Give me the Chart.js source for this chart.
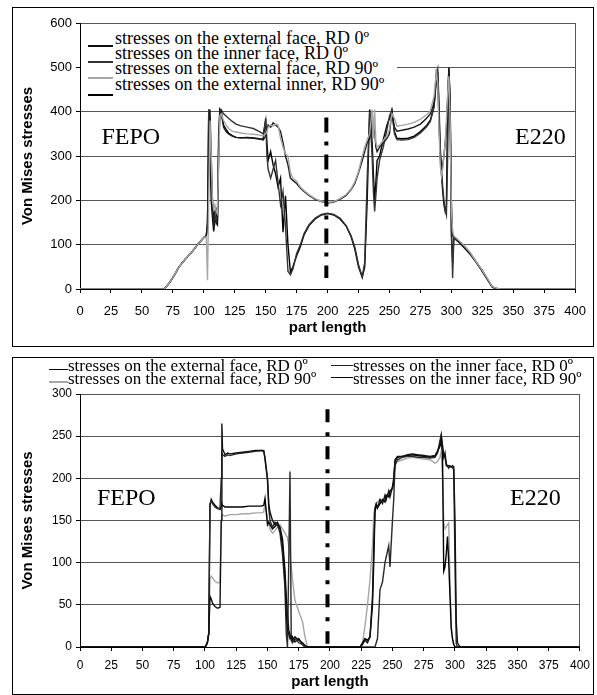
<!DOCTYPE html>
<html><head><meta charset="utf-8">
<script src="https://cdn.jsdelivr.net/npm/chart.js@4.4.1/dist/chart.umd.min.js"></script>
<style>
html,body{margin:0;padding:0;background:#fff;}
body{width:597px;height:695px;position:relative;overflow:hidden;}
.box{position:absolute;border:1px solid #000;box-sizing:border-box;}
canvas{position:absolute;left:0;}
.t{position:absolute;font-family:"Liberation Serif","Times New Roman",serif;color:#000;white-space:nowrap;}
.lg{font-size:18px;line-height:18px;}
.lg2{font-size:17px;line-height:17px;}
.big{font-size:24px;line-height:24px;}
.ln{position:absolute;}
</style></head><body>
<div class="box" style="left:12px;top:7px;width:582px;height:340px;"></div>
<div class="box" style="left:12px;top:357px;width:582px;height:338px;"></div>
<canvas id="c1" width="597" height="350" style="top:0;"></canvas>
<canvas id="c2" width="597" height="345" style="top:350px;"></canvas>

<!-- top legend -->
<div style="position:absolute;left:81px;top:24px;width:316px;height:78px;background:#fff;"></div>
<div class="ln" style="left:88px;top:45px;width:25px;height:2px;background:#111"></div>
<div class="ln" style="left:88px;top:61px;width:25px;height:1.5px;background:#333"></div>
<div class="ln" style="left:88px;top:77px;width:25px;height:1.5px;background:#a6a6a6"></div>
<div class="ln" style="left:88px;top:94px;width:25px;height:2px;background:#000"></div>
<div class="t lg" style="left:115px;top:29px">stresses on the external face, RD 0º</div>
<div class="t lg" style="left:115px;top:44px">stresses on the inner face, RD 0º</div>
<div class="t lg" style="left:115px;top:59px">stresses on the external face, RD 90º</div>
<div class="t lg" style="left:115px;top:74.5px">stresses on the external inner, RD 90º</div>
<div class="t big" style="left:101.5px;top:124.2px">FEPO</div>
<div class="t big" style="left:515px;top:123.5px">E220</div>

<!-- bottom legend -->
<div class="ln" style="left:49px;top:368.5px;width:19px;height:1.5px;background:#000"></div>
<div class="ln" style="left:49px;top:381px;width:19px;height:1.5px;background:#a6a6a6"></div>
<div class="ln" style="left:331px;top:364.5px;width:22px;height:1.5px;background:#222"></div>
<div class="ln" style="left:331px;top:376.5px;width:22px;height:1.5px;background:#000"></div>
<div class="t lg2" style="left:68px;top:357.3px">stresses on the external face, RD 0º</div>
<div class="t lg2" style="left:68px;top:370.3px">stresses on the external face, RD 90º</div>
<div class="t lg2" style="left:353px;top:357.3px">stresses on the inner face, RD 0º</div>
<div class="t lg2" style="left:353px;top:370.3px">stresses on the inner face, RD 90º</div>
<div class="t big" style="left:97px;top:485px">FEPO</div>
<div class="t big" style="left:510px;top:485px">E220</div>

<script>
// ---------- top chart data ----------
const xTop = [0,68,72,76,80,85,90,95,100,
  102,103,104,105,106,107,108,109,110,111,112,113,114,
  116,118,120,123,126,130,135,140,145,148,
  150,151,152,154,156,158,160,162,164,166,168,170,172,
  175,178,181,185,190,195,200,205,210,215,219,222,225,228,230,232,234,236,237,238,239,240,242,245,248,250,252,
  254,256,260,265,270,275,280,283,286,287,288,289,290,291,292,293,294,295,296,297,298,299,300,301,302,
  305,310,315,320,325,330,333,336,340,400];
const topExtRD0 = [0,0,13,30,50,67,82,100,116,
  120,150,300,405,300,200,160,175,180,150,300,405,400,
  365,355,350,345,342,341,341,340,338,336,
  345,360,370,365,375,370,365,355,330,300,280,250,245,
  238,228,220,211,202,197,194,196,202,211,224,238,262,290,310,330,340,400,350,360,320,310,320,330,340,350,400,
  365,356,358,361,365,372,385,395,420,450,496,470,380,300,270,280,300,330,360,430,500,420,200,120,118,
  110,98,82,61,40,18,5,1,0,0];
const topInnerRD0 = [0,0,13,30,50,67,82,100,116,
  120,140,405,380,250,180,150,170,150,160,350,405,405,
  395,390,385,378,372,368,365,362,355,350,
  380,300,270,250,270,290,240,190,220,140,40,32,45,
  80,100,125,145,160,168,171,168,160,143,120,95,55,28,60,250,400,300,220,175,210,250,290,320,360,390,405,
  350,337,336,337,342,352,366,378,410,440,480,495,420,320,280,230,200,180,167,300,495,400,150,25,115,
  108,97,81,60,40,18,4,0,0,0];
const topExtRD90 = [0,0,13,30,50,67,82,100,116,
  118,20,200,380,300,200,180,190,175,170,280,390,395,
  380,370,362,356,354,352,350,349,347,345,
  350,355,365,370,368,372,370,340,320,305,300,262,250,
  243,230,222,213,204,198,195,197,204,213,226,242,265,300,320,337,350,405,340,405,330,320,325,335,345,360,395,
  385,367,369,372,376,383,393,402,435,465,490,460,360,280,254,270,300,330,380,440,480,380,180,130,120,
  112,99,83,62,42,20,6,2,0,0];
const topInnerRD90 = [0,0,13,30,50,67,82,100,116,
  120,145,405,300,200,160,130,160,150,145,320,405,400,
  370,360,352,346,342,341,342,341,339,338,
  385,330,290,310,280,260,230,250,128,210,100,38,50,
  75,95,122,143,158,167,170,167,158,142,118,90,50,26,50,200,405,330,260,200,240,290,300,337,370,385,400,
  355,340,339,340,345,355,369,381,412,450,470,490,400,300,260,220,190,175,190,420,498,420,120,60,117,
  108,94,79,61,42,19,5,1,0,0];
const topDashX = [199,199];
const topDashY = [387,25];

// ---------- bottom chart data ----------
const xBot = [0,100,101,102,103,104,105,106,108,110,112,
  113,113.5,114,116,118,120,125,130,135,140,145,147,148,
  150,151,152,154,156,158,160,162,164,165,166,167,168,169,170,172,175,178,180,182,
  224,226,228,230,232,234,235,236,237,238,240,242,244,245,247,248,250,251,252,
  254,258,262,266,270,275,280,284,286,288,289,290,291,292,293,294,295,296,297,298,299,300,301,302,304,400];
const botExtRD0 = [0,0,2,6,16,60,57,52,48,46,47,
  150,265,235,228,230,229,230,231,232,233,233,232,225,
  200,170,160,150,145,148,140,120,80,40,20,15,10,12,8,12,8,5,2,0,
  0,3,8,5,12,60,120,165,170,165,175,170,180,175,185,178,190,200,222,
  226,226,228,229,228,227,226,227,232,240,250,235,225,230,218,214,215,214,213,215,214,150,30,5,0,0];
const botInnerRD0 = [0,0,2,6,16,170,173,170,166,164,165,
  200,230,228,226,228,227,229,230,231,232,233,233,222,
  198,165,150,142,148,145,135,110,70,16,0,100,208,10,5,10,5,3,0,0,
  0,0,0,0,0,0,0,0,5,10,68,77,100,107,120,95,151,175,215,
  222,225,226,226,225,225,224,225,230,245,252,240,228,225,215,215,212,215,214,213,210,100,4,0,0,0];
const botExtRD90 = [0,0,2,6,16,80,84,82,78,76,76,
  150,155,157,155,156,157,157,158,158,159,159,160,172,
  150,145,140,135,138,142,145,140,135,132,130,120,110,95,80,55,42,30,12,0,
  0,5,25,50,80,120,157,165,170,172,175,172,176,178,180,185,190,200,218,
  220,222,224,225,224,223,222,218,220,225,232,200,147,140,142,145,147,80,24,10,3,0,0,0,0,0];
const botInnerRD90 = [0,0,2,6,16,168,175,172,168,165,163,
  167,170,168,166,166,166,166,166,167,167,167,168,176,
  145,148,145,140,143,146,142,128,90,60,40,20,15,8,12,6,10,3,0,0,
  0,5,10,8,12,50,100,160,168,165,170,175,172,180,178,185,188,195,220,
  225,226,227,228,227,226,225,226,232,238,245,230,90,95,110,131,100,60,22,10,3,0,0,0,0,0];
const botDashX = [198,198];
const botDashY = [282,4];

// ---------- axes ----------
const xMin = 0, xMax = 400, xStep = 25;
const topYMax = 600, topYStep = 100;
const botYMax = 300, botYStep = 50;
const xTitle = 'part length';
const yTitle = 'Von Mises stresses';

Chart.defaults.font.family = '"Liberation Sans", Arial, sans-serif';
Chart.defaults.color = '#000';

function pts(xs, ys) { return xs.map((x, i) => ({x: x, y: ys[i]})); }
function lineDs(label, xs, ys, color, w) {
  return {label: label, data: pts(xs, ys), borderColor: color, backgroundColor: color,
    borderWidth: w, pointRadius: 0, fill: false, tension: 0};
}
function dashDs(xs, ys, dash) {
  return {label: 'axis', data: pts(xs, ys), borderColor: '#000', borderWidth: 4,
    borderDash: dash, borderCapStyle: 'butt', pointRadius: 0, fill: false, tension: 0};
}

function makeChart(id, datasets, o) {
  return new Chart(document.getElementById(id), {
    type: 'line',
    data: {datasets: datasets},
    options: {
      responsive: false, animation: false, devicePixelRatio: 1,
      layout: {padding: {left: 0, top: o.padTop, right: o.padRight, bottom: 0}},
      plugins: {legend: {display: false}, tooltip: {enabled: false}},
      scales: {
        x: {
          type: 'linear', min: xMin, max: xMax,
          ticks: {stepSize: xStep, autoSkip: false, maxRotation: 0, color: '#000',
            font: {size: o.tickFont}, padding: o.xTickPad},
          grid: {drawOnChartArea: true, tickLength: 4, tickColor: '#000', lineWidth: 1,
            color: c => (c.tick && c.tick.value === xMax) ? '#555' : 'rgba(0,0,0,0)'},
          border: {display: true, color: '#000', width: 1},
          title: {display: true, text: xTitle, color: '#000',
            font: {size: 15, weight: 'bold'}, padding: {top: 0, bottom: o.xTitlePad}},
          afterFit: s => { s.height = o.xHeight; }
        },
        y: {
          min: 0, max: o.yMax,
          ticks: {stepSize: o.yStep, color: '#000', font: {size: o.tickFont}, padding: 4},
          grid: {color: '#555', tickColor: '#000', tickLength: 4, lineWidth: 1},
          border: {display: true, color: '#000', width: 1},
          title: {display: true, text: yTitle, color: '#000',
            font: {size: 15, weight: 'bold'}, padding: {top: 19, bottom: 0}},
          afterFit: s => { s.width = 80; }
        }
      }
    }
  });
}

makeChart('c1', [
  dashDs(topDashX, topDashY, [15, 9, 4, 9]),
  lineDs('stresses on the external face, RD 90º', xTop, topExtRD90, '#a6a6a6', 1.4),
  lineDs('stresses on the external face, RD 0º', xTop, topExtRD0, '#1a1a1a', 1.4),
  lineDs('stresses on the inner face, RD 0º', xTop, topInnerRD0, '#333', 1.4),
  lineDs('stresses on the external inner, RD 90º', xTop, topInnerRD90, '#000', 1.4)
], {padTop: 23, padRight: 17, xHeight: 61, tickFont: 13, xTickPad: 11, xTitlePad: 13,
    yMax: topYMax, yStep: topYStep});

makeChart('c2', [
  dashDs(botDashX, botDashY, [13, 10, 4, 10]),
  lineDs('stresses on the external face, RD 0º', xBot, botExtRD0, '#111', 1.4),
  lineDs('stresses on the inner face, RD 0º', xBot, botInnerRD0, '#2a2a2a', 1.4),
  lineDs('stresses on the inner face, RD 90º', xBot, botInnerRD90, '#000', 1.4),
  lineDs('stresses on the external face, RD 90º', xBot, botExtRD90, '#a6a6a6', 1.4)
], {padTop: 44, padRight: 14, xHeight: 48, tickFont: 12, xTickPad: 7, xTitlePad: 4.5,
    yMax: botYMax, yStep: botYStep});
</script>
</body></html>
